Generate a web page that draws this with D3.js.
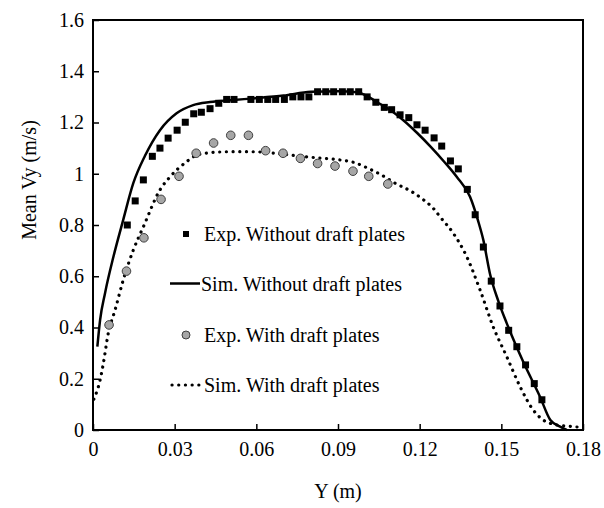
<!DOCTYPE html>
<html><head><meta charset="utf-8">
<script src="https://cdn.jsdelivr.net/npm/d3@7"></script>
<style>body{margin:0;background:#fff}svg{display:block}text{font-family:"Liberation Serif","DejaVu Serif",serif;fill:#000}</style>
</head><body><svg id="c" width="604" height="508"></svg>
<script>
const xTicks = [0, 0.03, 0.06, 0.09, 0.12, 0.15, 0.18];
const xTickLabels = ["0", "0.03", "0.06", "0.09", "0.12", "0.15", "0.18"];
const yTicks = [0, 0.2, 0.4, 0.6, 0.8, 1.0, 1.2, 1.4, 1.6];
const yTickLabels = ["0", "0.2", "0.4", "0.6", "0.8", "1", "1.2", "1.4", "1.6"];
const seriesNames = ["Exp. Without draft plates", "Sim. Without draft plates", "Exp. With draft plates", "Sim. With draft plates"];
const xTitle = "Y (m)";
const yTitle = "Mean Vy (m/s)";

const expWithoutX = [0.0126,0.0155,0.0185,0.0218,0.0246,0.0276,0.0309,0.0339,0.0370,0.0398,0.0430,0.0462,0.0491,0.0518,0.0580,0.0611,0.0642,0.0671,0.0703,0.0734,0.0764,0.0793,0.0825,0.0855,0.0884,0.0916,0.0945,0.0976,0.1007,0.1039,0.1070,0.1097,0.1128,0.1160,0.1190,0.1220,0.1253,0.1281,0.1313,0.1342,0.1375,0.1404,0.1434,0.1463,0.1495,0.1527,0.1557,0.1589,0.1621,0.1649];
const expWithoutY = [0.800,0.894,0.976,1.068,1.100,1.139,1.170,1.201,1.234,1.240,1.254,1.275,1.29,1.29,1.29,1.29,1.29,1.29,1.29,1.30,1.30,1.30,1.32,1.32,1.32,1.32,1.32,1.32,1.30,1.279,1.259,1.250,1.230,1.219,1.191,1.170,1.140,1.108,1.050,1.019,0.939,0.840,0.714,0.581,0.484,0.389,0.325,0.254,0.181,0.118];

const simWithoutX = [0.0016,0.0026,0.0044,0.0075,0.0111,0.0148,0.0191,0.0246,0.0307,0.0368,0.043,0.0516,0.06,0.07,0.08,0.09,0.097,0.102,0.105,0.109,0.114,0.119,0.124,0.129,0.1336,0.1385,0.1415,0.1434,0.1458,0.149,0.152,0.158,0.1642,0.168,0.1716,0.174];
const simWithoutY = [0.325,0.429,0.533,0.676,0.82,0.963,1.07,1.17,1.236,1.268,1.28,1.288,1.295,1.305,1.32,1.322,1.318,1.295,1.275,1.25,1.209,1.16,1.106,1.047,0.988,0.91,0.815,0.741,0.611,0.50,0.416,0.267,0.13,0.039,0.013,0.0];

const expWithX = [0.0059,0.0123,0.0187,0.0250,0.0316,0.0379,0.0443,0.0506,0.0571,0.0634,0.0698,0.0762,0.0825,0.0889,0.0955,0.1013,0.1083];
const expWithY = [0.41,0.62,0.75,0.90,0.99,1.08,1.12,1.15,1.15,1.09,1.08,1.06,1.04,1.03,1.01,0.99,0.96];

const simWithX = [0.0003,0.0026,0.0038,0.0056,0.0081,0.0111,0.0148,0.0185,0.0246,0.0283,0.0344,0.0381,0.043,0.0503,0.0577,0.065,0.0724,0.0803,0.0889,0.0962,0.1011,0.106,0.111,0.1171,0.1207,0.125,0.1275,0.1324,0.137,0.1422,0.147,0.152,0.1569,0.1617,0.1654,0.1703,0.1764,0.18];
const simWithY = [0.12,0.195,0.26,0.377,0.468,0.585,0.702,0.793,0.937,0.988,1.047,1.073,1.082,1.086,1.086,1.082,1.073,1.064,1.056,1.043,1.021,0.995,0.963,0.93,0.904,0.865,0.832,0.767,0.683,0.546,0.403,0.286,0.169,0.078,0.039,0.02,0.013,0.01];

const FS = 20;
const m = {l:93, t:20, r:583, b:430};
const svg = d3.select("#c");
const x = d3.scaleLinear().domain([0, 0.18]).range([m.l, m.r]);
const y = d3.scaleLinear().domain([0, 1.6]).range([m.b, m.t]);

const zip = (a,b) => a.map((v,i)=>[v,b[i]]);
const line = d3.line().x(d=>x(d[0])).y(d=>y(d[1])).curve(d3.curveMonotoneX);

// axes (inside ticks)
const xAxis = d3.axisBottom(x).tickValues(xTicks).tickFormat((d,i)=>xTickLabels[i]).tickSizeInner(-6).tickSizeOuter(0).tickPadding(12);
const gx = svg.append("g").attr("transform",`translate(0,${m.b})`).call(xAxis);
const yAxis = d3.axisLeft(y).tickValues(yTicks).tickFormat((d,i)=>yTickLabels[i]).tickSizeInner(-6).tickSizeOuter(0).tickPadding(9);
const gy = svg.append("g").attr("transform",`translate(${m.l},0)`).call(yAxis);
[gx,gy].forEach(g=>{
  g.attr("font-family",null).attr("font-size",null);
  g.select(".domain").remove();
  g.selectAll(".tick line").attr("stroke","#000").attr("stroke-width",1.5);
  g.selectAll(".tick text").style("font-size",FS+"px");
});

// series
svg.append("path").datum(zip(simWithoutX, simWithoutY)).attr("d", line)
  .attr("fill","none").attr("stroke","#000").attr("stroke-width",2.5);
svg.append("path").datum(zip(simWithX, simWithY)).attr("d", line)
  .attr("fill","none").attr("stroke","#000").attr("stroke-width",3.2)
  .attr("stroke-linecap","round").attr("stroke-dasharray","0.1 6.6");
const sq = 7;
svg.append("g").selectAll("rect").data(zip(expWithoutX, expWithoutY)).join("rect")
  .attr("x",d=>x(d[0])-sq/2).attr("y",d=>y(d[1])-sq/2).attr("width",sq).attr("height",sq).attr("fill","#000");
svg.append("g").selectAll("circle").data(zip(expWithX, expWithY)).join("circle")
  .attr("cx",d=>x(d[0])).attr("cy",d=>y(d[1])).attr("r",4.3)
  .attr("fill","#a6a6a6").attr("stroke","#404040").attr("stroke-width",1);

// frame
svg.append("rect").attr("x",m.l).attr("y",m.t).attr("width",m.r-m.l).attr("height",m.b-m.t)
  .attr("fill","none").attr("stroke","#000").attr("stroke-width",2);

// legend
const lg = svg.append("g");
const rows = [234, 283.5, 335, 385];
const tx = 204;
lg.append("rect").attr("x",186-3).attr("y",rows[0]-3).attr("width",6).attr("height",6).attr("fill","#000");
lg.append("line").attr("x1",170).attr("x2",200).attr("y1",rows[1]).attr("y2",rows[1]).attr("stroke","#000").attr("stroke-width",2.5);
lg.append("circle").attr("cx",186).attr("cy",rows[2]).attr("r",4).attr("fill","#a6a6a6").attr("stroke","#404040");
lg.append("line").attr("x1",172).attr("x2",202).attr("y1",rows[3]).attr("y2",rows[3]).attr("stroke","#000").attr("stroke-width",3.2)
  .attr("stroke-linecap","round").attr("stroke-dasharray","0.1 6.6");
seriesNames.forEach((s,i)=>{
  lg.append("text").attr("x", i===1?201:tx).attr("y",rows[i]).attr("dy","0.35em").style("font-size",FS+"px").text(s);
});

// titles
svg.append("text").attr("x",(m.l+m.r)/2).attr("y",498).attr("text-anchor","middle").style("font-size",FS+"px").text(xTitle);
svg.append("text").attr("transform","translate(29,180) rotate(-90)").attr("text-anchor","middle").attr("dy","0.35em").style("font-size",FS+"px").text(yTitle);
</script></body></html>
